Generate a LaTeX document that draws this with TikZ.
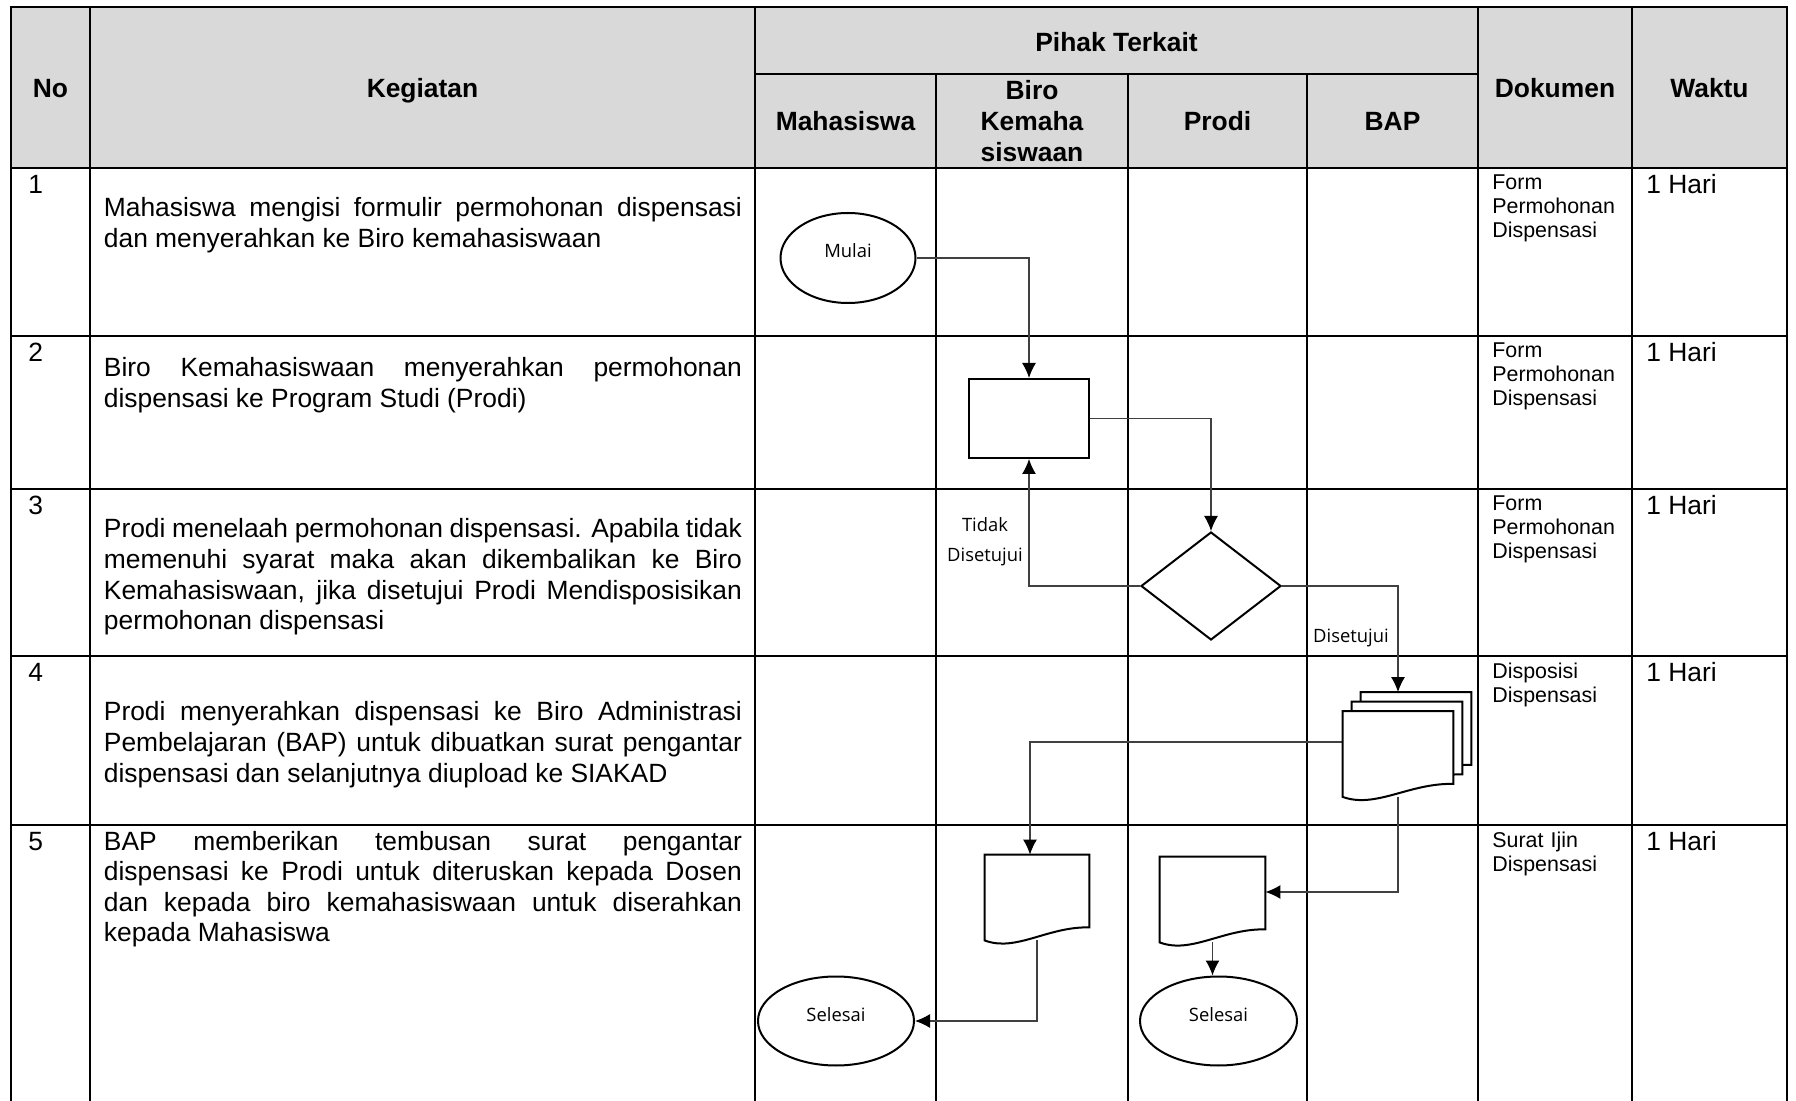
\documentclass[tikz,border=0pt]{standalone}
\usepackage{fontspec}
\setmainfont{Liberation Sans}
\newfontfamily\flowfont{Open Sans}
\usetikzlibrary{shapes.geometric,arrows.meta,calc,positioning}
\definecolor{headgray}{RGB}{217,217,217}
\definecolor{linkgray}{RGB}{64,64,64}
\tolerance=10000
\hbadness=10000
\newcommand{\docshape}[1]{%
  \draw[shapeline] (#1.south west) -- (#1.north west) -- (#1.north east)
    -- ([yshift=6.5pt]#1.south east)
    .. controls ($(#1.south west)!0.6!(#1.south east)+(0,7pt)$) and ($(#1.south west)!0.3!(#1.south east)+(0,-6pt)$) .. (#1.south west) -- cycle;}
\begin{document}
\begin{tikzpicture}[x=0.5pt,y=-0.5pt,
    grid/.style={line width=1pt},
    hd/.style={font=\bfseries\fontsize{13.2pt}{15.5pt}\selectfont,inner sep=0,anchor=base},
    body/.style={font=\fontsize{13.2pt}{15.3pt}\selectfont,inner sep=0,anchor=base west,text width=319pt,align=justify},
    num/.style={font=\fontsize{13.2pt}{15.3pt}\selectfont,inner sep=0,anchor=base west},
    dok/.style={font=\fontsize{10.7pt}{12pt}\selectfont,inner sep=0,anchor=base west,text width=65pt,align=left},
    shapeline/.style={line width=1pt,draw=black,fill=white},
    terminal/.style={shapeline,ellipse,inner sep=0,font=\flowfont\fontsize{9.2pt}{11pt}\selectfont,text height=6.8pt,text depth=6.8pt},
    docbox/.style={rectangle,minimum height=42.5pt,inner sep=0},
    flow/.style={draw=linkgray,line width=0.65pt,-{Latex[length=7.5pt,width=7pt,color=black]}},
    lbl/.style={font=\flowfont\fontsize{9.2pt}{15pt}\selectfont,inner sep=0,anchor=base}]
  \useasboundingbox (0,0) rectangle (1796,1101);
  \fill[headgray] (11,7.5) rectangle (1787,168);
  \draw[grid] (11,1101) -- (11,7.5) -- (1787,7.5) -- (1787,1101);
  \foreach \y in {168,336,489,656,825} \draw[grid] (11,\y) -- (1787,\y);
  \draw[grid] (755,74) -- (1478,74);
  \foreach \x in {90,755,1478,1632} \draw[grid] (\x,7.5) -- (\x,1101);
  \foreach \x in {936,1128,1307} \draw[grid] (\x,74) -- (\x,1101);

  \node[hd] (hno) at (50.5,98) {No};
  \node[hd] (hkeg) at (422.5,98) {Kegiatan};
  \node[hd] (hpihak) at (1116.5,51.5) {Pihak Terkait};
  \node[hd] (hmhs) at (845.5,130.5) {Mahasiswa};
  \node[hd,text width=80pt,align=center] (hbiro) at (1032,99.5) {Biro\\Kemaha\\siswaan};
  \node[hd] (hprodi) at (1217.5,130.5) {Prodi};
  \node[hd] (hbap) at (1392.5,130.5) {BAP};
  \node[hd] (hdok) at (1555,98) {Dokumen};
  \node[hd] (hwaktu) at (1709.5,98) {Waktu};

  \foreach \n/\y in {1/194,2/362,3/515,4/682,5/850} {
    \node[num] (no\n) at (28,\y) {\n};
    \node[num] (waktu\n) at (1646,\y) {1 Hari};
  }

  \node[body] (keg1) at (103.5,217) {Mahasiswa mengisi formulir permohonan dispensasi\linebreak dan menyerahkan ke Biro kemahasiswaan};
  \node[body] (keg2) at (103.5,377) {Biro Kemahasiswaan menyerahkan permohonan\linebreak dispensasi ke Program Studi (Prodi)};
  \node[body] (keg3) at (103.5,538) {Prodi menelaah permohonan dispensasi. Apabila tidak\linebreak memenuhi syarat maka akan dikembalikan ke Biro\linebreak Kemahasiswaan, jika disetujui Prodi Mendisposisikan\linebreak permohonan dispensasi};
  \node[body] (keg4) at (103.5,721) {Prodi menyerahkan dispensasi ke Biro Administrasi\linebreak Pembelajaran (BAP) untuk dibuatkan surat pengantar\linebreak dispensasi dan selanjutnya diupload ke SIAKAD};
  \node[body] (keg5) at (103.5,850) {BAP memberikan tembusan surat pengantar\linebreak dispensasi ke Prodi untuk diteruskan kepada Dosen\linebreak dan kepada biro kemahasiswaan untuk diserahkan\linebreak kepada Mahasiswa};

  \node[dok] (dok1) at (1492,189.5) {Form\\Permohonan\\Dispensasi};
  \node[dok] (dok2) at (1492,357.5) {Form\\Permohonan\\Dispensasi};
  \node[dok] (dok3) at (1492,511) {Form\\Permohonan\\Dispensasi};
  \node[dok] (dok4) at (1492,679) {Disposisi\\Dispensasi};
  \node[dok] (dok5) at (1492,848) {Surat Ijin\\Dispensasi};

  \node[terminal,minimum width=67.5pt,minimum height=45pt] (mulai) at (848,258) {Mulai};
  \node[shapeline,rectangle,minimum width=60pt,minimum height=39.5pt] (kirim) at (1029,418.5) {};
  \node[shapeline,diamond,minimum width=70pt,minimum height=54pt,inner sep=0] (telaah) at (1211,586) {};
  \node[docbox,minimum width=55pt] (mdoc) at (1398,754) {};
  \node[docbox,minimum width=55pt] (mdocb) at ($(mdoc)+(9,-9.5)$) {};
  \node[docbox,minimum width=55pt] (mdocc) at ($(mdoc)+(18,-19)$) {};
  \node[docbox,minimum width=52pt] (birodoc) at (1037,897.5) {};
  \node[docbox,minimum width=52.5pt] (prodidoc) at (1212.5,899.5) {};
  \node[terminal,minimum width=78pt,minimum height=44.5pt] (selesai1) at (836,1021) {Selesai};
  \node[terminal,minimum width=78.5pt,minimum height=44.5pt] (selesai2) at (1218.5,1021) {Selesai};

  \draw[flow] (mulai.east) -| (kirim.north);
  \draw[flow] (kirim.east) -| (telaah.north);
  \draw[flow] (telaah.west) -| (kirim.south);
  \draw[flow] (telaah.east) -| (mdoc.north |- mdocc.north);
  \draw[flow] ([yshift=6pt]mdoc.west) -| ([xshift=-3.5pt]birodoc.north);
  \draw[flow] (birodoc.south) |- (selesai1.east);
  \draw[flow] (mdoc.south) |- ([yshift=3.75pt]prodidoc.east);
  \draw[flow] (prodidoc.south) -- (prodidoc.south |- selesai2.north);

  \docshape{mdocc}
  \docshape{mdocb}
  \docshape{mdoc}
  \docshape{birodoc}
  \docshape{prodidoc}

  \node[lbl,text width=50pt,align=center] (tidak) at (985,532) {Tidak\\Disetujui};
  \node[lbl] (setuju) at (1351,643) {Disetujui};
\end{tikzpicture}
\end{document}
